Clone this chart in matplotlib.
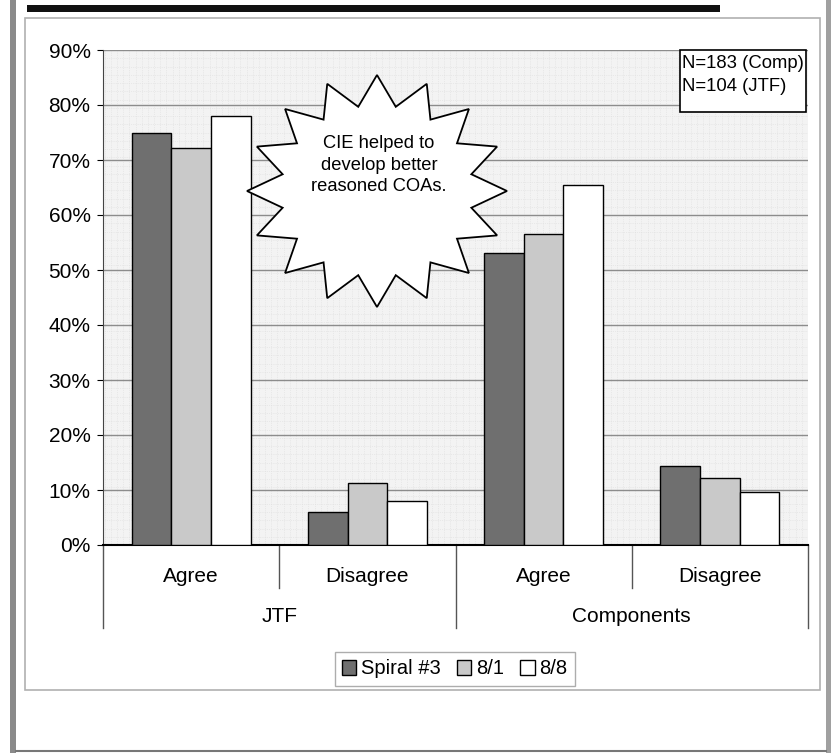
import numpy as np
import matplotlib
matplotlib.use("Agg")
import matplotlib.pyplot as plt
from matplotlib.patches import Polygon, Rectangle
from matplotlib.lines import Line2D

plt.rcParams['font.family'] = ['Liberation Sans', 'DejaVu Sans']

# data
groups = ['JTF', 'Components']
answers = ['Agree', 'Disagree']
series = ['Spiral #3', '8/1', '8/8']
spiral3 = [75.0, 6.0, 53.1, 14.3]
aug1 = [72.2, 11.3, 56.6, 12.2]
aug8 = [78.0, 8.0, 65.5, 9.7]
colors = ['#6f6f6f', '#c9c9c9', '#ffffff']
note_text = 'N=183 (Comp)\nN=104 (JTF)'
star_text = 'CIE helped to\ndevelop better\nreasoned COAs.'

W, H = 833, 753
fig = plt.figure(figsize=(W / 100, H / 100), dpi=100)


def px(x, y):
    # pixel (from top-left) -> figure fraction
    return x / W, 1 - y / H


# outer page borders
fig.add_artist(Rectangle(px(10, 753), 6 / W, 753 / H, transform=fig.transFigure,
                         facecolor='#8a8a8a', edgecolor='none'))
fig.add_artist(Rectangle(px(826, 753), 5 / W, 753 / H, transform=fig.transFigure,
                         facecolor='#a0a0a0', edgecolor='none'))
fig.add_artist(Rectangle(px(27, 12), 693 / W, 7 / H, transform=fig.transFigure,
                         facecolor='#111111', edgecolor='none'))
fig.add_artist(Line2D([16 / W, 826 / W], [1 - 751 / H] * 2, transform=fig.transFigure,
                      color='#777777', lw=1.5))
# chart frame
fig.add_artist(Rectangle(px(25, 690), 795 / W, 672 / H, transform=fig.transFigure,
                         facecolor='none', edgecolor='#b0b0b0', lw=1.2))

l, b = px(103, 545)
r, t = px(808, 50)
ax = fig.add_axes([l, b, r - l, t - b])
ax.set_facecolor('#f3f3f3')

x = np.arange(len(spiral3))
w = 0.225
for i, (vals, c, name) in enumerate(zip([spiral3, aug1, aug8], colors, series)):
    ax.bar(x + (i - 1) * w, vals, w, color=c, edgecolor='black', lw=1.0,
           label=name, zorder=3)

ax.set_xlim(-0.5, len(x) - 0.5)
ax.set_ylim(0, 90)
ax.set_yticks(np.arange(0, 91, 10))
ax.set_yticklabels([f'{v}%' for v in range(0, 91, 10)], fontsize=15)
ax.set_xticks([])
ax.yaxis.set_minor_locator(matplotlib.ticker.MultipleLocator(1.5))
ax.xaxis.set_minor_locator(matplotlib.ticker.MultipleLocator(0.035))
ax.grid(which='minor', color='#dedede', lw=0.5, ls=':', zorder=0)
ax.grid(axis='y', which='major', color='#8c8c8c', lw=1.0, zorder=1)
ax.tick_params(axis='y', which='minor', length=0)
ax.tick_params(axis='x', which='minor', length=0)
ax.tick_params(axis='y', length=4, pad=5)
for s in ['top', 'right']:
    ax.spines[s].set_visible(False)
ax.spines['left'].set_color('#444444')
ax.spines['bottom'].set_linewidth(1.5)

# two-level category axis
trans = ax.get_xaxis_transform()
for i in range(len(x)):
    ax.text(x[i], -32 / 495, answers[i % 2], transform=trans,
            ha='center', va='center', fontsize=15)
for g, name in enumerate(groups):
    ax.text(2 * g + 0.5, -72 / 495, name, transform=trans,
            ha='center', va='center', fontsize=15)
for xs in [-0.5, 1.5, 3.5]:
    ax.plot([xs, xs], [0, -83 / 495], transform=trans, color='#555555',
            lw=1.0, clip_on=False)
for xs in [0.5, 2.5]:
    ax.plot([xs, xs], [0, -43 / 495], transform=trans, color='#555555',
            lw=1.0, clip_on=False)

# note box
fig.add_artist(Rectangle(px(680, 112), 126 / W, 62 / H, transform=fig.transFigure,
                         facecolor='white', edgecolor='black', lw=1.2, zorder=5))
fig.text(*px(682, 75), note_text, fontsize=13.3, ha='left', va='center',
         linespacing=1.4, zorder=6)

# starburst callout
cx, cy, rx, ry = 377, 191, 130, 116
n = 16
ang = np.pi / 2 + np.arange(2 * n) * np.pi / n
rad = np.where(np.arange(2 * n) % 2 == 0, 1.0, 0.74)
pts = [px(cx + rx * rr * np.cos(a), cy - ry * rr * np.sin(a)) for a, rr in zip(ang, rad)]
fig.add_artist(Polygon(pts, closed=True, transform=fig.transFigure,
                       facecolor='white', edgecolor='black', lw=1.3, zorder=5))
fig.text(*px(379, 165), star_text, fontsize=13.2, ha='center', va='center',
         linespacing=1.35, zorder=6)

leg = fig.legend(loc='center', bbox_to_anchor=px(455, 669), ncol=3, fontsize=14.5,
                 frameon=True, fancybox=False, handlelength=0.7, handleheight=0.7,
                 handletextpad=0.25, columnspacing=0.8, borderpad=0.35)
leg.get_frame().set_edgecolor('#999999')
leg.get_frame().set_linewidth(1.0)

fig.savefig('out.png', dpi=100)
